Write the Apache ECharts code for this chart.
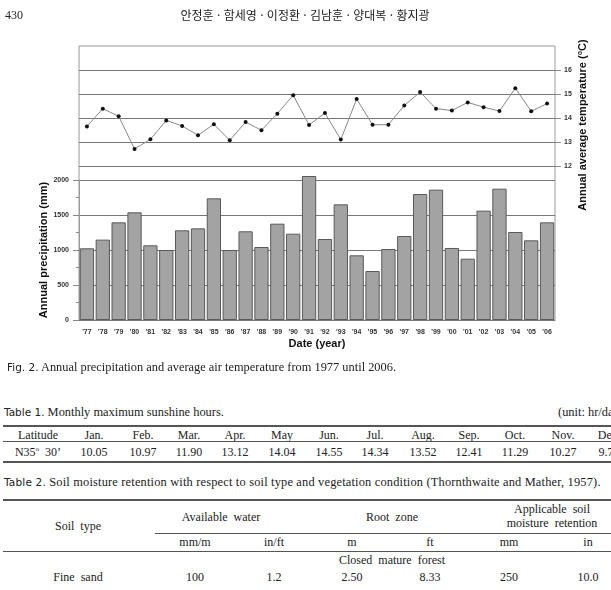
<!DOCTYPE html>
<html lang="ko">
<head>
<meta charset="UTF-8">
<title>Fig. 2</title>
<script src="https://cdn.jsdelivr.net/npm/echarts@6/dist/echarts.min.js"></script>
<style>
    body{margin:0;width:611px;height:590px;overflow:hidden;background:#fff;position:relative;
         font-family:"Liberation Serif","DejaVu Serif",serif;color:#222;}
    #chartmain{position:absolute;left:0;top:0;width:611px;height:360px;}
    .t{position:absolute;white-space:nowrap;font-size:12px;line-height:1;}
    .cap{font-size:12.4px;}
    .hr{position:absolute;right:0;background:#555;}
    .sans{font-family:"DejaVu Sans",sans-serif;font-size:10.5px;}
    .kr{font-family:"Noto Sans CJK KR",sans-serif;font-size:12px;}
</style>
</head>
<body>
<div id="chartmain"></div>
<div id="page"></div>
<script type="text/javascript">

    var years = ["'77","'78","'79","'80","'81","'82","'83","'84","'85","'86","'87","'88","'89","'90","'91",
                 "'92","'93","'94","'95","'96","'97","'98","'99","'00","'01","'02","'03","'04","'05","'06"];
    // annual precipitation (mm)
    var precipitation = [1024,1148,1395,1538,1067,1000,1281,1309,1738,1000,1267,1043,1376,1233,2057,
                         1157,1652,924,700,1014,1200,1800,1862,1029,876,1562,1876,1257,1138,1395];
    // annual average temperature (C)
    var temperature = [13.65,14.39,14.07,12.71,13.11,13.90,13.67,13.28,13.74,13.07,13.83,13.49,14.18,14.95,13.71,
                       14.21,13.10,14.79,13.72,13.72,14.52,15.08,14.39,14.31,14.65,14.45,14.29,15.24,14.28,14.60];

    // table texts
    var months = ['Latitude','Jan.','Feb.','Mar.','Apr.','May','Jun.','Jul.','Aug.','Sep.','Oct.','Nov.','Dec.'];
    var sunshine = ['N35<sup style="font-size:7px">o</sup>&nbsp; 30\u2019','10.05','10.97','11.90','13.12','14.04','14.55','14.34','13.52','12.41','11.29','10.27','9.75'];
    var soilUnits = ['mm/m','in/ft','m','ft','mm','in'];
    var soilRow = ['Fine&nbsp; sand','100','1.2','2.50','8.33','250','10.0'];

    var page = document.getElementById('page');
    function put(txt, x, y, cls, align){
        var d = document.createElement('div');
        d.className = 't ' + (cls || '');
        d.innerHTML = txt;
        d.style.left = x + 'px';
        d.style.top = y + 'px';
        d.style.transform = align === 'l' ? 'translateY(-50%)' : 'translate(-50%,-50%)';
        page.appendChild(d);
        return d;
    }
    function line(y, x, h){
        var d = document.createElement('div');
        d.className = 'hr';
        d.style.top = y + 'px';
        d.style.left = (x || 3) + 'px';
        d.style.height = (h || 1) + 'px';
        page.appendChild(d);
    }

    // header
    put('430', 5, 15, '', 'l');
    put('안정훈 · 함세영 · 이정환 · 김남훈 · 양대복 · 황지광', 305, 15, 'kr', 'c');

    // caption
    put('<span class="sans">Fig. 2.</span> Annual precipitation and average air temperature from 1977 until 2006.', 7, 367, 'cap', 'l');

    // table 1
    put('<span class="sans">Table 1.</span> Monthly maximum sunshine hours.', 4, 412, 'cap', 'l');
    put('(unit: hr/day)', 558, 412, 'cap', 'l');
    line(425, 3, 2);
    var t1x = [38,94,143,189,235,282,329,375,423,469,515,563,609];
    for (var i = 0; i < months.length; i++){
        put(months[i], t1x[i], 435);
        put(sunshine[i], t1x[i], 452);
    }
    line(441, 3, 1);
    line(461, 3, 2);

    // table 2
    var cap2 = put('<span class="sans">Table 2.</span> Soil moisture retention with respect to soil type and vegetation condition (Thornthwaite and Mather, 1957).', 4, 482, 'cap', 'l');
    cap2.style.letterSpacing = '0.18px';
    line(499, 3, 2);
    put('Soil&nbsp; type', 78, 526);
    put('Available&nbsp; water', 221, 517);
    put('Root&nbsp; zone', 392, 517);
    put('Applicable&nbsp; soil', 552, 509);
    put('moisture&nbsp; retention', 552, 523);
    line(533, 155, 1);
    var t2x = [78,195,274,352,430,509,588];
    for (var j = 0; j < soilUnits.length; j++){
        put(soilUnits[j], t2x[j + 1], 542);
    }
    line(551, 3, 1);
    put('Closed&nbsp; mature&nbsp; forest', 392, 560);
    for (var k = 0; k < soilRow.length; k++){
        put(soilRow[k], t2x[k], 577);
    }

    // chart
    var tickFont = {fontFamily:'Liberation Sans', fontSize:7, fontWeight:'bold', color:'#333'};
    var nameFont = {fontFamily:'Liberation Sans', fontSize:11, fontWeight:'bold', color:'#111'};

    var option = {
        animation: false,
        grid: [
            {left:79, top:46, width:476, height:274, show:true, borderColor:'#9a9a9a', borderWidth:1},
            {left:79, top:70, width:476, height:96},
            {left:79, top:180, width:476, height:140}
        ],
        xAxis: [
            {gridIndex:0, type:'category', data:years, show:false},
            {gridIndex:1, type:'category', data:years, show:false},
            {gridIndex:2, type:'category', data:years,
                axisLine:{lineStyle:{color:'#777'}},
                axisTick:{alignWithLabel:true, length:5, lineStyle:{color:'#888'}},
                axisLabel:Object.assign({margin:9}, tickFont),
                name:'Date (year)', nameLocation:'middle', nameGap:18, nameMoveOverlap:false, nameTextStyle:nameFont}
        ],
        yAxis: [
            {gridIndex:0, type:'value', show:false},
            {gridIndex:1, type:'value', position:'right', min:12, max:16, interval:1,
                axisLine:{show:false},
                axisTick:{show:true, length:6, lineStyle:{color:'#888'}},
                axisLabel:Object.assign({margin:9}, tickFont),
                splitLine:{lineStyle:{color:'#777'}},
                name:'Annual average temperature (\u00B0C)', nameLocation:'middle', nameGap:22, nameMoveOverlap:false,
                nameTextStyle:Object.assign({padding:[0,14,0,0]}, nameFont)},
            {gridIndex:2, type:'value', min:0, max:2000, interval:500,
                axisLine:{show:true, lineStyle:{color:'#9a9a9a'}},
                axisTick:{show:true, length:6, lineStyle:{color:'#888'}},
                minorTick:{show:true, splitNumber:2, length:3, lineStyle:{color:'#888'}},
                axisLabel:Object.assign({margin:10, formatter:function(v){ return String(v); }}, tickFont),
                splitLine:{lineStyle:{color:'#777'}},
                name:'Annual precipitation (mm)', nameLocation:'middle', nameGap:30, nameMoveOverlap:false,
                nameTextStyle:nameFont}
        ],
        series: [
            {type:'bar', xAxisIndex:2, yAxisIndex:2, data:precipitation, clip:false,
                barCategoryGap:'10%',
                itemStyle:{color:'#a3a3a3', borderColor:'#5a5a5a', borderWidth:1}},
            {type:'line', xAxisIndex:1, yAxisIndex:1, data:temperature,
                symbol:'circle', symbolSize:4,
                lineStyle:{color:'#888', width:1},
                itemStyle:{color:'#111'}}
        ]
    };
    var myChart = echarts.init(document.getElementById('chartmain'));
    myChart.setOption(option);

</script>
</body>
</html>
